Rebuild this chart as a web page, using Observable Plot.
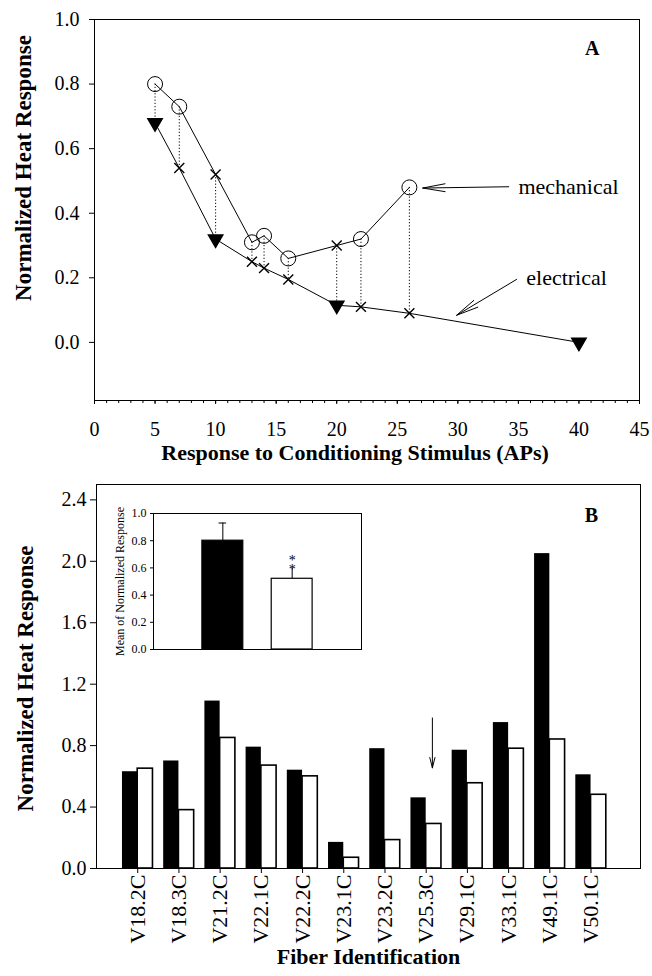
<!DOCTYPE html>
<html><head><meta charset="utf-8">
<script src="https://cdn.jsdelivr.net/npm/d3@7"></script>
<script src="https://cdn.jsdelivr.net/npm/@observablehq/plot@0.6"></script>
<style>
body{margin:0;background:#fff;}
#wrap{position:relative;width:652px;height:976px;background:#fff;overflow:hidden;}
#wrap svg{position:absolute;}
</style></head><body><div id="wrap"></div>
<script>
// ---------- Panel A data ----------
const mechX = [5, 7, 10, 13, 14, 16, 20, 22, 26];
const mechY = [0.80, 0.73, 0.52, 0.31, 0.33, 0.26, 0.30, 0.32, 0.48];
const mechMark = ["o", "o", "x", "o", "o", "o", "x", "o", "o"];
const elecX = [5, 7, 10, 13, 14, 16, 20, 22, 26, 40];
const elecY = [0.68, 0.54, 0.32, 0.25, 0.23, 0.195, 0.115, 0.11, 0.09, 0.0];
const elecMark = ["v", "x", "v", "x", "x", "x", "v", "x", "x", "v"];
const xTicksA = [0, 5, 10, 15, 20, 25, 30, 35, 40, 45];
const yTicksA = [0.0, 0.2, 0.4, 0.6, 0.8, 1.0];
const xTitleA = "Response to Conditioning Stimulus (APs)";
const yTitle = "Normalized Heat Response";
const labelsA = ["mechanical", "electrical"];

// ---------- Panel B data ----------
const fibers = ["V18.2C", "V18.3C", "V21.2C", "V22.1C", "V22.2C", "V23.1C", "V23.2C", "V25.3C", "V29.1C", "V33.1C", "V49.1C", "V50.1C"];
const blackVals = [0.63, 0.70, 1.09, 0.79, 0.64, 0.17, 0.78, 0.46, 0.77, 0.95, 2.05, 0.61];
const whiteVals = [0.65, 0.38, 0.85, 0.67, 0.60, 0.07, 0.185, 0.29, 0.555, 0.78, 0.84, 0.48];
const yTicksB = [0.0, 0.4, 0.8, 1.2, 1.6, 2.0, 2.4];
const xTitleB = "Fiber Identification";

// ---------- Inset data ----------
const insetMeans = [0.80, 0.52];
const insetErrTop = [0.93, 0.60];
const insetTicks = [0.0, 0.2, 0.4, 0.6, 0.8, 1.0];
const insetTitle = "Mean of Normalized Response";
const insetStars = [0.612, 0.678];

const FONT = "Liberation Serif";
const wrap = document.getElementById("wrap");

const triDown = {
  draw(ctx, size) {
    const y = Math.sqrt(size / (Math.sqrt(3) * 3));
    ctx.moveTo(0, 2 * y);
    ctx.lineTo(-Math.sqrt(3) * y, -y);
    ctx.lineTo(Math.sqrt(3) * y, -y);
    ctx.closePath();
  }
};

const mech = mechX.map((x, i) => ({x, y: mechY[i], m: mechMark[i]}));
const elec = elecX.map((x, i) => ({x, y: elecY[i], m: elecMark[i]}));
const pairs = mechX.map((x, i) => ({x, y1: mechY[i], y2: elecY[elecX.indexOf(x)]}));
const allPts = mech.concat(elec);

const annotA = [
  {text: labelsA[0], x: 35.0, y: 0.482, ax1: 34.2, ay1: 0.482, ax2: 27.1, ay2: 0.478},
  {text: labelsA[1], x: 35.65, y: 0.199, ax1: 34.85, ay1: 0.195, ax2: 29.9, ay2: 0.084}
];

const plotA = Plot.plot({
  width: 652, height: 470,
  marginLeft: 94, marginRight: 13, marginTop: 19, marginBottom: 70,
  style: {fontFamily: FONT, color: "black", background: "transparent", overflow: "visible"},
  x: {domain: [0, 45]},
  y: {domain: [-0.18, 1.0]},
  marks: [
    Plot.frame({stroke: "black", strokeWidth: 1}),
    Plot.axisX({ticks: d3.range(0, 46, 1), tickSize: 3, text: null, label: null}),
    Plot.axisX({ticks: xTicksA, tickSize: 4, tickPadding: 17, fontSize: 20, label: null}),
    Plot.axisY({ticks: yTicksA, tickFormat: ".1f", tickSize: 5, tickPadding: 10, fontSize: 20, label: null}),
    Plot.ruleX(pairs, {x: "x", y1: "y1", y2: "y2", stroke: "black", strokeWidth: 1, strokeDasharray: "1.2,2"}),
    Plot.line(mech, {x: "x", y: "y", stroke: "black", strokeWidth: 1}),
    Plot.line(elec, {x: "x", y: "y", stroke: "black", strokeWidth: 1}),
    Plot.dot(mech.filter(d => d.m === "o"), {x: "x", y: "y", r: 7.5, stroke: "black", fill: "none", strokeWidth: 1}),
    Plot.dot(allPts.filter(d => d.m === "x"), {x: "x", y: "y", symbol: "times", r: 4.6, stroke: "black", strokeWidth: 1.4}),
    Plot.dot(elec.filter(d => d.m === "v"), {x: "x", y: "y", symbol: triDown, r: 5.3, fill: "black", stroke: "black"}),
    Plot.arrow(annotA, {x1: "ax1", y1: "ay1", x2: "ax2", y2: "ay2", stroke: "black", strokeWidth: 1, headAngle: 20, headLength: 34}),
    Plot.text(annotA, {x: "x", y: "y", text: "text", textAnchor: "start", fontSize: 22, fill: "black"}),
    Plot.text(["A"], {x: 41.1, y: 0.911, text: d => d, fontSize: 20, fontWeight: "bold", fill: "black"}),
    Plot.text([xTitleA], {text: d => d, frameAnchor: "bottom", dy: 59, dx: -12, fontSize: 22, fontWeight: "bold", fill: "black"}),
    Plot.text([yTitle], {text: d => d, frameAnchor: "left", textAnchor: "middle", rotate: -90, dx: -71, dy: -42, fontSize: 23, fontWeight: "bold", fill: "black"})
  ]
});
plotA.style.left = "0px"; plotA.style.top = "0px";
wrap.appendChild(plotA);

// ---------- Panel B ----------
const bars = fibers.map((f, i) => ({i: i + 1, f, b: blackVals[i], w: whiteVals[i]}));
const BW = 0.37;
const plotB = Plot.plot({
  width: 652, height: 506,
  marginLeft: 96, marginRight: 12, marginTop: 14, marginBottom: 108,
  style: {fontFamily: FONT, color: "black", background: "transparent", overflow: "visible"},
  x: {domain: [0, 13.2]},
  y: {domain: [0, 2.5]},
  marks: [
    Plot.rectY(bars, {x1: d => d.i - BW, x2: d => d.i, y1: 0, y2: "b", fill: "black"}),
    Plot.rectY(bars, {x1: d => d.i, x2: d => d.i + BW, y1: 0, y2: "w", fill: "white", stroke: "black", strokeWidth: 1.6}),
    Plot.frame({stroke: "black", strokeWidth: 1}),
    Plot.axisX({ticks: d3.range(1, 13), tickFormat: i => fibers[i - 1], tickRotate: -90, tickSize: 5, tickPadding: 1, fontSize: 22, label: null}),
    Plot.axisY({ticks: yTicksB, tickFormat: ".1f", tickSize: 6, tickPadding: 4, fontSize: 20, label: null}),
    Plot.arrow([{x: 8.15, y1: 0.98, y2: 0.655}], {x1: "x", x2: "x", y1: "y1", y2: "y2", stroke: "black", strokeWidth: 1, headAngle: 28, headLength: 16}),
    Plot.text(["B"], {x: 12.01, y: 2.30, text: d => d, fontSize: 20, fontWeight: "bold", fill: "black"}),
    Plot.text([xTitleB], {text: d => d, frameAnchor: "bottom", dy: 95, fontSize: 22, fontWeight: "bold", fill: "black"}),
    Plot.text([yTitle], {text: d => d, frameAnchor: "left", textAnchor: "middle", rotate: -90, dx: -71, dy: 2, fontSize: 23, fontWeight: "bold", fill: "black"})
  ]
});
plotB.style.left = "0px"; plotB.style.top = "470px";
wrap.appendChild(plotB);

// ---------- Inset ----------
const inset = insetMeans.map((m, i) => ({i: i + 1, m, e: insetErrTop[i], fill: i === 0 ? "black" : "white"}));
const IBW = 0.295;
const plotI = Plot.plot({
  width: 261, height: 156,
  marginLeft: 48, marginRight: 5, marginTop: 10, marginBottom: 10,
  style: {fontFamily: FONT, color: "black", background: "transparent", overflow: "visible"},
  x: {domain: [0, 3], axis: null},
  y: {domain: [0, 1]},
  marks: [
    Plot.ruleX(inset, {x: "i", y1: "m", y2: "e", stroke: "black", strokeWidth: 1}),
    Plot.ruleY(inset.slice(0, 1), {y: "e", x1: d => d.i - 0.055, x2: d => d.i + 0.055, stroke: "black", strokeWidth: 1}),
    Plot.rectY(inset, {x1: d => d.i - IBW, x2: d => d.i + IBW, y1: 0, y2: "m", fill: "fill", stroke: "black", strokeWidth: 1.2}),
    Plot.text(insetStars, {x: 2, y: d => d, text: () => "*", fontSize: 14, dy: 3, fill: "black"}),
    Plot.frame({stroke: "black", strokeWidth: 1}),
    Plot.axisY({ticks: insetTicks, tickFormat: ".1f", tickSize: 3, tickPadding: 4, fontSize: 12, label: null}),
    Plot.text([insetTitle], {text: d => d, frameAnchor: "left", textAnchor: "middle", rotate: -90, dx: -33, fontSize: 12, fill: "black"})
  ]
});
plotI.style.left = "105px"; plotI.style.top = "503px";
wrap.appendChild(plotI);
</script></body></html>
